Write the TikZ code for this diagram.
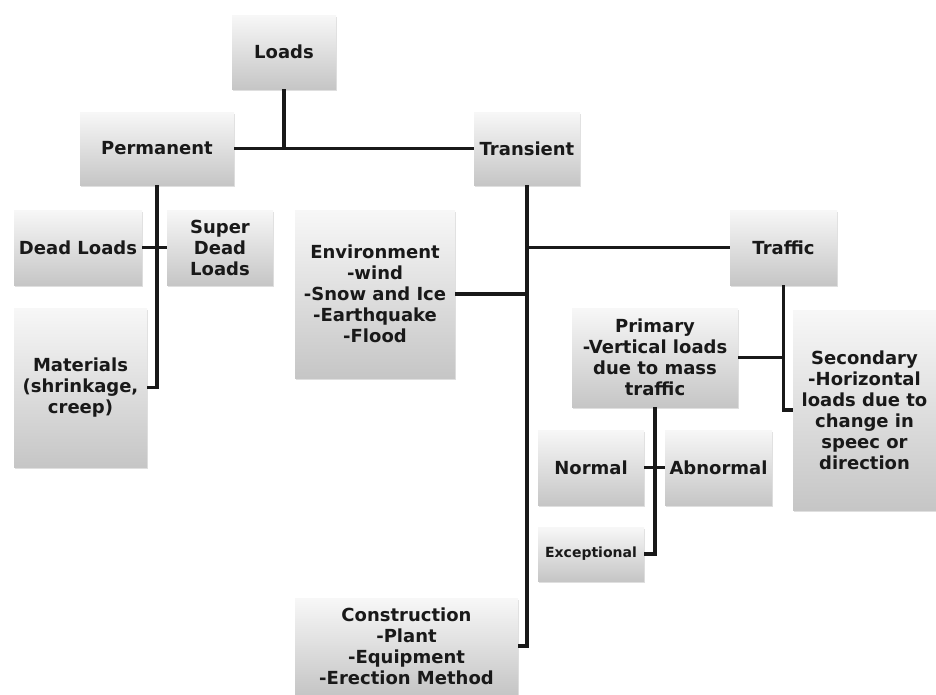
\documentclass[tikz,border=0pt]{standalone}
\usepackage{fontspec}
\setmainfont{DejaVu Sans}
\usepackage{tikz}
\usetikzlibrary{shadows}

\begin{document}
\begin{tikzpicture}[
  x=1pt, y=-1pt,
  box/.style={rectangle, top color=gray!6, bottom color=gray!45, align=center,
    font=\bfseries\fontsize{18}{21}\selectfont, text=black!90, inner sep=2pt,
    drop shadow={shadow xshift=1pt, shadow yshift=-2pt, opacity=0.25}},
  link/.style={line width=3.5pt, black!90}]
\useasboundingbox (0,0) rectangle (936,694);

\node[box, minimum width=104, minimum height=74] (loads) at (284,52) {Loads};
\node[box, minimum width=154, minimum height=73] (perm) at (157,148.5) {Permanent};
\node[box, minimum width=106, minimum height=73] (trans) at (527,148.5) {Transient};

\node[box, minimum width=128, minimum height=75] (dead) at (78,247.5) {Dead Loads};
\node[box, minimum width=106, minimum height=75] (super) at (220,247.5) {Super\\Dead\\Loads};
\node[box, minimum width=133, minimum height=159] (mat) at (80.5,387.5) {Materials\\(shrinkage,\\creep)};

\node[box, minimum width=160, minimum height=168] (env) at (375,294) {Environment\\-wind\\-Snow and Ice\\-Earthquake\\-Flood};
\node[box, minimum width=223, minimum height=96] (constr) at (406.5,646) {Construction\\-Plant\\-Equipment\\-Erection Method};

\node[box, minimum width=107, minimum height=75] (traffic) at (783.5,247.5) {Traffic};
\node[box, minimum width=166, minimum height=99] (prim) at (655,357.5) {Primary\\-Vertical loads\\due to mass\\traffic};
\node[box, minimum width=143, minimum height=200] (sec) at (864.5,410) {Secondary\\-Horizontal\\loads due to\\change in\\speec or\\direction};

\node[box, minimum width=106, minimum height=75] (normal) at (591,467.5) {Normal};
\node[box, minimum width=107, minimum height=75] (abnormal) at (718.5,467.5) {Abnormal};
\node[box, minimum width=106, minimum height=54, font=\bfseries\fontsize{14}{16}\selectfont] (except) at (591,554) {Exceptional};

% top level
\draw[link] (loads.south) -- (loads.south |- perm.east);
\draw[link] (perm.east) -- (trans.west);

% permanent loads
\draw[link] (perm.south) |- (mat.east);
\draw[link] (dead.east) -- (super.west);

% transient loads
\draw[link] (trans.south) |- (constr.east);
\draw[link] (trans.south |- traffic.west) -- (traffic.west);
\draw[link] (env.east) -- (env.east -| trans.south);

% traffic
\draw[link] (traffic.south) |- (sec.west);
\draw[link] (prim.east) -- (prim.east -| traffic.south);
\draw[link] (prim.south) |- (except.east);
\draw[link] (normal.east) -- (abnormal.west);
\end{tikzpicture}
\end{document}
